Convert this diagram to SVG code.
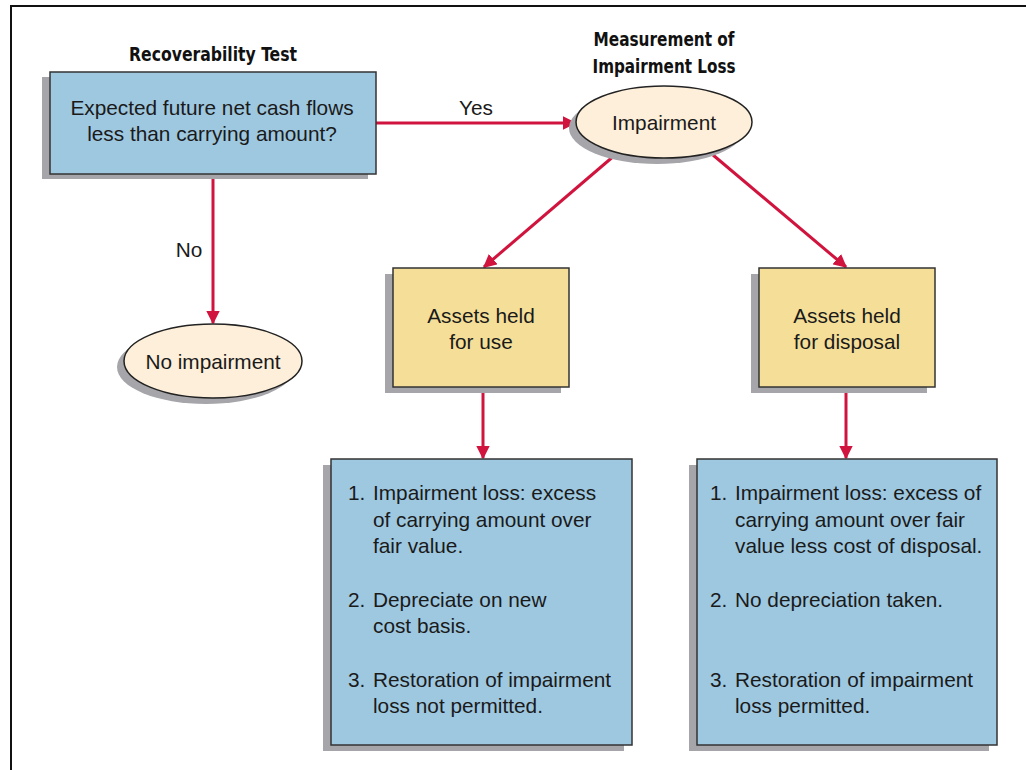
<svg xmlns="http://www.w3.org/2000/svg" width="1026" height="770" viewBox="0 0 1026 770">
<defs>
<style>
.shadow{fill:#a6a6aa;stroke:none}
.blue{fill:#9ec8e0;stroke:#333;stroke-width:1.5}
.yellow{fill:#f5df98;stroke:#333;stroke-width:1.5}
.oval{fill:#fdefd9;stroke:#222;stroke-width:1.5}
.t{font-family:"Liberation Sans","Noto Sans",sans-serif;font-size:20.8px;fill:#1a1a1a}
.c{text-anchor:middle}
.h{font-family:"Liberation Sans Narrow","DejaVu Sans Condensed","Liberation Sans",sans-serif;font-weight:bold;font-size:19px;fill:#111;text-anchor:middle}
.conn{stroke:#d0143e;stroke-width:3;fill:none;marker-end:url(#ah)}
</style>
<marker id="ah" viewBox="0 0 10 10" refX="9" refY="5" markerWidth="4.5" markerHeight="4.5" orient="auto" markerUnits="strokeWidth">
<path d="M0,0 L10,5 L0,10 z" fill="#d0143e"/>
</marker>
</defs>
<rect x="0" y="0" width="1026" height="770" fill="#fff"/>
<path d="M1026,6 H11 V770" fill="none" stroke="#111" stroke-width="2"/>

<text class="h" x="213" y="61" textLength="168" lengthAdjust="spacingAndGlyphs">Recoverability Test</text>
<text class="h" x="664" y="46" textLength="141" lengthAdjust="spacingAndGlyphs">Measurement of</text>
<text class="h" x="664" y="73" textLength="143" lengthAdjust="spacingAndGlyphs">Impairment Loss</text>

<g id="connectors">
<line class="conn" x1="376" y1="123" x2="575" y2="123"/>
<line class="conn" x1="213" y1="174" x2="213" y2="323"/>
<line class="conn" x1="615" y1="155" x2="484" y2="267"/>
<line class="conn" x1="713" y1="155" x2="846" y2="267"/>
<line class="conn" x1="483" y1="387" x2="483" y2="458"/>
<line class="conn" x1="846" y1="387" x2="846" y2="458"/>
<text class="t" x="476" y="115" text-anchor="middle">Yes</text>
<text class="t" x="189" y="257" text-anchor="middle">No</text>
</g>

<g id="recoverability">
<rect class="shadow" x="42" y="77" width="326" height="102"/>
<rect class="blue" x="50" y="72" width="326" height="102"/>
<text class="t c" x="212" y="115">Expected future net cash flows</text>
<text class="t c" x="212" y="141">less than carrying amount?</text>
</g>

<g id="impairment">
<ellipse class="shadow" cx="657" cy="128" rx="88" ry="36"/>
<ellipse class="oval" cx="664" cy="122" rx="88" ry="36"/>
<text class="t c" x="664" y="130">Impairment</text>
</g>

<g id="no-impairment">
<ellipse class="shadow" cx="206" cy="367" rx="89" ry="37"/>
<ellipse class="oval" cx="213" cy="361" rx="89" ry="37"/>
<text class="t c" x="213" y="369">No impairment</text>
</g>

<g id="held-for-use">
<rect class="shadow" x="385" y="274" width="176" height="119"/>
<rect class="yellow" x="393" y="268" width="176" height="119"/>
<text class="t c" x="481" y="323">Assets held</text>
<text class="t c" x="481" y="349">for use</text>
</g>

<g id="held-for-disposal">
<rect class="shadow" x="751" y="274" width="176" height="119"/>
<rect class="yellow" x="759" y="268" width="176" height="119"/>
<text class="t c" x="847" y="323">Assets held</text>
<text class="t c" x="847" y="349">for disposal</text>
</g>

<g id="use-details">
<rect class="shadow" x="323" y="465" width="301" height="286"/>
<rect class="blue" x="331" y="459" width="301" height="286"/>
<text class="t" x="348" y="500">1.</text>
<text class="t" x="373" y="500">Impairment loss: excess</text>
<text class="t" x="373" y="527">of carrying amount over</text>
<text class="t" x="373" y="553">fair value.</text>
<text class="t" x="348" y="607">2.</text>
<text class="t" x="373" y="607">Depreciate on new</text>
<text class="t" x="373" y="633">cost basis.</text>
<text class="t" x="348" y="687">3.</text>
<text class="t" x="373" y="687">Restoration of impairment</text>
<text class="t" x="373" y="713">loss not permitted.</text>
</g>

<g id="disposal-details">
<rect class="shadow" x="689" y="465" width="300" height="286"/>
<rect class="blue" x="697" y="459" width="300" height="286"/>
<text class="t" x="710" y="500">1.</text>
<text class="t" x="735" y="500">Impairment loss: excess of</text>
<text class="t" x="735" y="527">carrying amount over fair</text>
<text class="t" x="735" y="553">value less cost of disposal.</text>
<text class="t" x="710" y="607">2.</text>
<text class="t" x="735" y="607">No depreciation taken.</text>
<text class="t" x="710" y="687">3.</text>
<text class="t" x="735" y="687">Restoration of impairment</text>
<text class="t" x="735" y="713">loss permitted.</text>
</g>
</svg>
